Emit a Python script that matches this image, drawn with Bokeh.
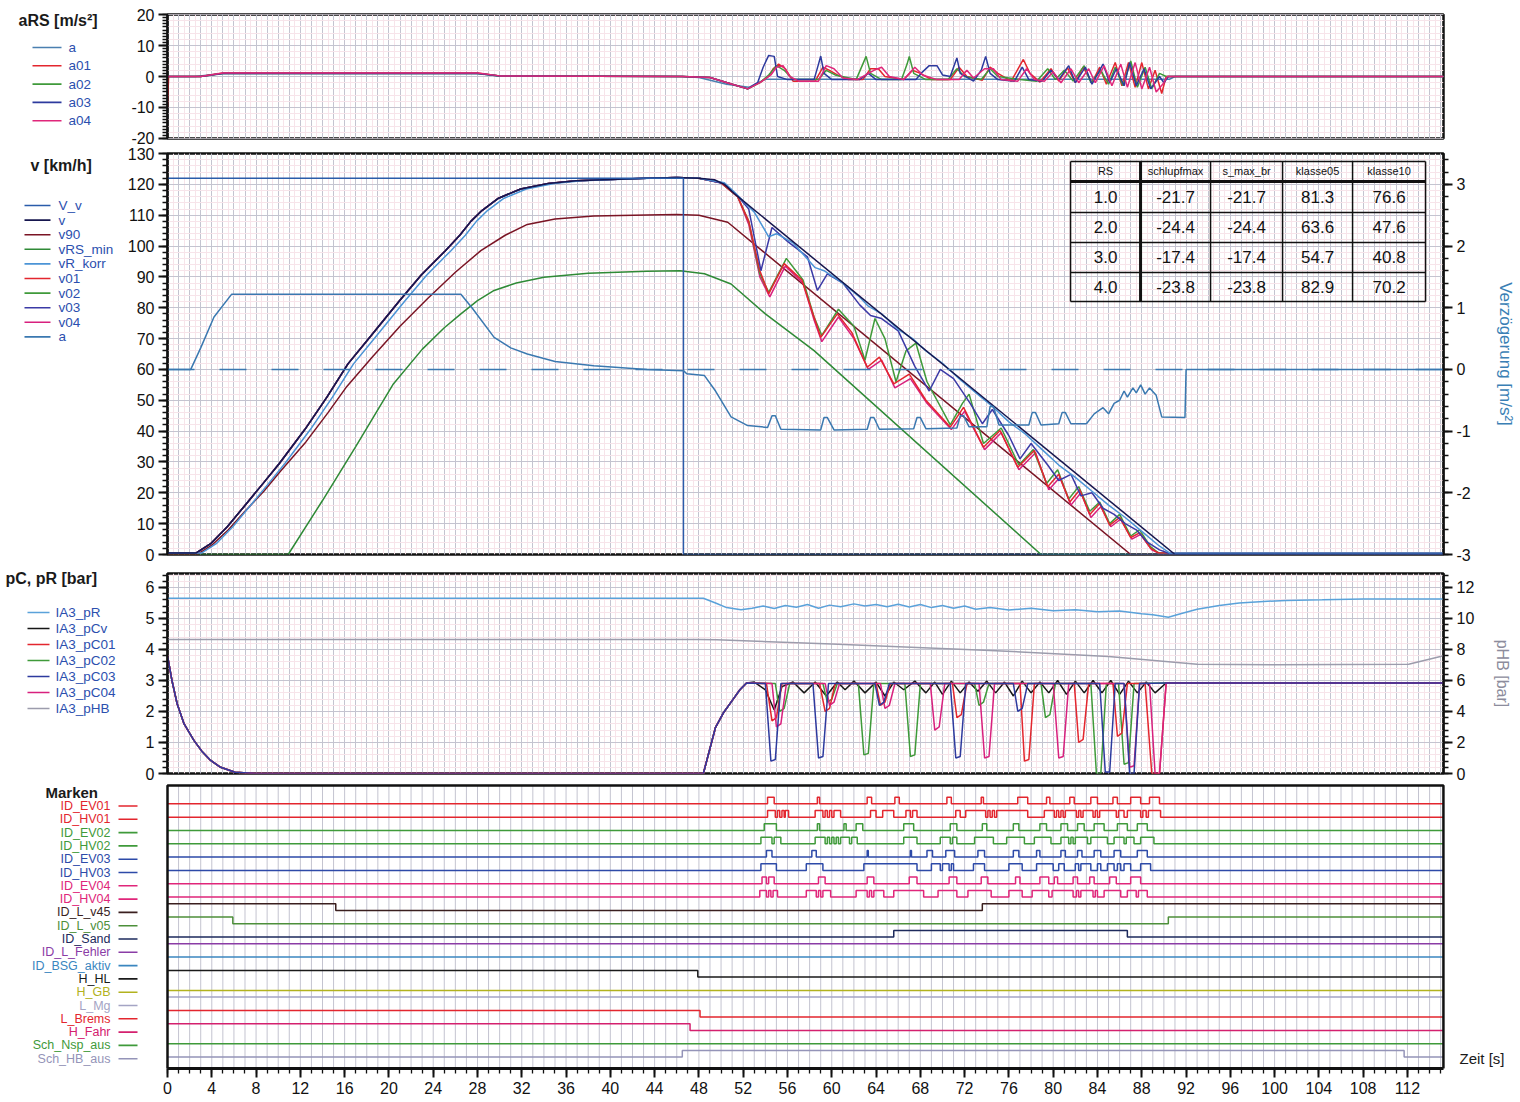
from bokeh.plotting import figure
from bokeh.models import (Range1d, LinearAxis, Grid, SingleIntervalTicker, PrintfTickFormatter)
from bokeh.layouts import column, row
from bokeh.core.properties import value
from bokeh.embed import file_html
from bokeh.resources import INLINE

FONT = "Liberation Sans"
XMAX = 115.25

# ---------------- data: panel 1 (aRS [m/s²]) ----------------
A1_T = [0, 2.5, 5, 28, 30, 46.5, 48, 50.5, 52.5, 54, 90.5, 91, 115.25]
A1_Y = [0, 0, 1.0, 1.0, 0.2, 0, -0.3, -2.5, -3.5, -0.9, -0.9, 0, 0]
A01 = [[0, -10], [0.1, 0], [3, 0], [5, 1.1], [28, 1.1], [30, 0.2], [46.5, 0], [49, -0.3], [51, -2.5], [52.4, -4], [53.5, -2], [54.3, 0], [54.7, 2.5], [55.2, 4], [55.8, 2.5], [56.5, -1.5], [58.5, -1.5], [59.2, 3], [59.8, 2], [60.5, 0.5], [61.5, -1], [62.8, -1], [63.5, 2.5], [64.2, 2.5], [64.8, 0], [66.5, -1], [67.3, 2.0], [68, 1], [69, -1], [70.7, -1], [71.5, 3], [72.2, 0], [73.6, -1.2], [74.3, 3], [75, 1], [76.2, -1.5], [77.3, 5.5], [77.9, 1], [78.8, -1.8], [79.8, 2.5], [80.5, -1.5], [81.3, 2.8], [82, -2], [82.7, 3], [83.5, -2], [84.2, 3], [84.8, -2.5], [85.6, 4.5], [86.2, -3], [86.8, 4.5], [87.4, -3.5], [88.0, 4.5], [88.6, -4], [89.2, 2], [89.8, -5.5], [90.2, 0], [115.25, 0]]
A02 = [[0, 0], [3, 0], [5, 1.0], [28, 1.0], [30, 0.2], [46.5, 0], [49, -0.3], [51, -2.5], [52.4, -4], [53.5, -2], [54.3, 0.5], [55, 3.5], [55.7, 2], [56.5, -1], [58.8, -1], [59.5, 2], [60.3, 0.5], [62.2, -1], [62.8, 4], [63.1, 6.5], [63.5, 1], [64.5, -1], [66.3, -1], [66.8, 4], [67.0, 6.5], [67.4, 1], [68.5, -1], [70.5, -1], [71.3, 2.5], [72, 0], [73.5, -1], [74.3, 2.5], [75, 0], [77, -1], [78.5, -1.5], [79.5, 2.5], [80.2, -1], [81, 2], [81.8, -1.5], [82.8, 3.5], [83.4, -2], [84.3, 2], [85, -2.5], [85.6, 3], [86.3, -3], [87.0, 5], [87.6, -3.5], [88.3, 3], [88.9, -4], [89.6, 1], [90.2, 0], [115.25, 0]]
A03 = [[0, 0], [3, 0], [5, 1.0], [28, 1.0], [30, 0.2], [46.5, 0], [49, -0.3], [51, -2.5], [52.4, -4], [53.3, -2], [53.8, 3], [54.3, 6.8], [54.8, 6.5], [55.1, 0], [56, -1], [58.4, -1], [58.8, 4], [59.0, 6.6], [59.3, 1], [60, -1], [62.5, -1], [63.3, 1], [64, -1], [67.6, -1], [68.2, 1.5], [68.8, 3.5], [69.5, 3.5], [70, 0.5], [70.7, 0], [71.1, 4], [71.3, 6], [71.6, 1], [72.8, -1.5], [73.5, 2], [73.9, 6.5], [74.3, 1], [75, -1], [76.5, -1.5], [77.2, 3], [77.8, -1], [79, -1.5], [79.8, 2], [80.5, -1], [81.4, 3.5], [82, -2], [82.9, 3], [83.5, -2.5], [84.5, 4], [85.1, -2], [85.7, 2.5], [86.4, -3], [86.9, 4.5], [87.5, -3], [88.2, 2.5], [88.8, -4], [89.6, 0], [90, -2], [90.4, 0], [115.25, 0]]
A04 = [[0, 0], [3, 0], [5, 1.1], [28, 1.1], [30, 0.2], [46.5, 0], [49, -0.3], [51, -2.5], [52.4, -4], [53.5, -2], [54.5, 0.5], [55, 3], [55.6, 3.5], [56.2, 0], [57, -1.5], [58.8, -1.5], [59.5, 3.5], [60.2, 2.5], [61, -0.5], [62.3, -1], [63.8, 2], [64.5, 3], [65.2, 0], [66.5, -1], [67.5, 3], [68.2, 0.5], [69.5, -1], [71.5, -1], [72.2, 2], [72.8, -0.5], [73.8, 2.5], [74.6, 2.5], [75.3, -1], [76.8, -1.5], [77.6, 2.5], [78.3, -1], [79.2, -1.5], [80, 1.5], [80.7, -2], [81.6, 2.5], [82.3, -2], [83.2, 2.5], [83.8, -2], [84.6, 3.5], [85.3, -3], [86.1, 4], [86.7, -3.5], [87.4, 4.5], [88, -4], [88.7, 3], [89.3, -5], [90.0, -2], [90.3, 0], [115.25, 0]]

# ---------------- data: panel 2 (v [km/h], Verzögerung) ----------------
VV = [[0, 122], [46.6, 122], [46.6, 0], [115.25, 0]]
ACC_T = [0, 2.6, 3.9, 5.4, 6.9, 8.6, 10.1, 12.4, 14.4, 16.3, 18.4, 20.9, 22.9, 25.1, 26.4, 27.4, 28.4, 29.9, 31.9, 34.4, 36.9, 40, 43.3, 46]
ACC_V = [0.5, 0.5, 3.5, 9, 15.5, 22.9, 29.5, 40.5, 51, 61.8, 71, 82, 90.5, 98.5, 103.5, 108, 111.5, 115.5, 118.5, 120.3, 121.2, 121.6, 122, 122.2]
VRK_ACC_T = [0, 3.1, 4.4, 5.9, 7.4, 9.1, 10.6, 12.9, 14.9, 16.8, 18.9, 21.4, 23.4, 25.6, 26.9, 27.9, 28.9, 30.4, 32.4, 34.9, 37.4, 40.4, 43.6, 46]
V_BRAKE = [[48, 122], [49.4, 121.5], [50.3, 120], [51.2, 117], [91.0, 0], [115.25, 0]]
V01_BRAKE = [[48, 122], [50, 120.5], [51.5, 116], [52.5, 108], [53.5, 92], [54.3, 84.5], [55.7, 94.3], [57.3, 89], [58.3, 78], [59.0, 70.4], [60.5, 78], [61.8, 72], [63.2, 60.7], [64.3, 64], [65.6, 55.3], [67.0, 58.5], [68.5, 50], [70.7, 41.3], [71.9, 47.7], [73.7, 34.8], [75.2, 40.2], [76.8, 28.3], [78.3, 33.7], [79.5, 22], [80.5, 26], [81.5, 17], [82.4, 21], [83.3, 13], [84.2, 16.5], [85.1, 9.5], [86, 12], [87, 5.5], [87.8, 7], [88.8, 2], [89.5, 0.5], [115.25, 0.5]]
V02_BRAKE = [[48, 122], [50, 120.5], [51.5, 116], [52.5, 108], [53.5, 91], [54.3, 85], [55.9, 96], [57.4, 89], [58.4, 77], [59.1, 71], [60.6, 79.5], [62.0, 74], [63.0, 63], [63.9, 76.5], [64.8, 70], [65.8, 56], [66.7, 66], [67.6, 68.5], [68.6, 56], [70.7, 42], [71.8, 49], [72.4, 52], [73.7, 36], [75.3, 41], [76.9, 29], [78.2, 34], [79.4, 23], [80.4, 27.5], [81.4, 18], [82.3, 22], [83.3, 14], [84.2, 17], [85.1, 10], [86, 13], [87, 6], [87.8, 8], [88.8, 2.5], [89.5, 0.5], [115.25, 0.5]]
V03_BRAKE = [[48, 122], [50.3, 120.2], [51.5, 116.2], [52.5, 112], [53.6, 92], [54.6, 106], [56, 101.5], [57.8, 96.5], [58.7, 85.6], [59.6, 91], [61, 88], [62.5, 81], [63.5, 77.5], [64.5, 76.5], [66, 72.5], [67.5, 61], [68.8, 53], [69.8, 60], [71, 57], [72.5, 49], [73.6, 42.4], [74.5, 47], [76, 38.5], [77, 31], [78, 36], [79.5, 29], [80.5, 24], [81.6, 26], [82.5, 19], [83.5, 20], [84.5, 15], [85.5, 13], [86.5, 10], [87.5, 8], [88.5, 4], [89.6, 1.5], [90.5, 0.3], [115.25, 0.3]]
V04_BRAKE = [[48, 122], [50, 120.5], [51.5, 116], [52.5, 107], [53.5, 90], [54.4, 83.5], [55.8, 93.5], [57.4, 88], [58.4, 76], [59.1, 69], [60.6, 77], [62.0, 70], [63.3, 60], [64.5, 63], [65.7, 54], [67.1, 57], [68.6, 49], [70.8, 40.5], [72, 46.5], [73.8, 34], [75.3, 39.5], [76.9, 27.5], [78.4, 33], [79.6, 21], [80.6, 25], [81.6, 16], [82.5, 20], [83.4, 12], [84.3, 15.5], [85.2, 9], [86.1, 11.5], [87.1, 5], [87.9, 6.5], [88.9, 1.5], [89.6, 0.3], [115.25, 0.3]]
VRK_BRAKE = [[48, 122], [50.3, 120.5], [51.2, 117.5], [53, 111], [54.3, 103], [55.0, 104], [56.5, 101], [58.5, 93], [59.3, 92], [61, 88], [62.5, 83.5], [63.3, 80.5], [64.5, 78], [66, 73], [67.3, 70], [68.5, 66], [70, 62], [71.5, 57], [73, 52.5], [74.5, 48], [76, 43], [77.5, 39], [79, 34], [80.5, 29], [82, 25], [83.5, 20.5], [85, 16], [86.5, 12], [88, 7.5], [89.5, 3], [90.5, 0.5], [115.25, 0.5]]
V90 = [[0, 0], [2.7, 0], [4, 3], [5.5, 8], [7, 14], [8.7, 20.5], [10.2, 27], [12.5, 36.5], [14.5, 46], [16.2, 54.5], [18.5, 64], [21, 74], [23.5, 83], [26, 91.5], [28.3, 98.5], [30.5, 103.5], [32.5, 107], [35, 108.8], [38.5, 109.7], [43.3, 110.1], [46, 110.2], [48, 110], [50.6, 107.7], [87.0, 0], [115.25, 0]]
VRS_MIN = [[0, 0], [10.9, 0], [14, 17.5], [17, 35], [20.4, 55.3], [23, 66.5], [25, 73.5], [26.5, 78], [28, 82.3], [29.5, 85.6], [31.5, 88], [34, 89.9], [38, 91.2], [43.3, 91.8], [46.3, 92], [48.5, 91], [50.9, 87.7], [54, 78], [58.4, 66.1], [78.9, 0], [115.25, 0]]
A2 = [[0, 0], [2.1, 0], [3.0, 0.35], [4.2, 0.85], [5.8, 1.22], [26.5, 1.22], [27.5, 1.0], [29.5, 0.52], [31, 0.35], [32.5, 0.25], [35, 0.13], [38.5, 0.06], [43.3, 0.0], [46.6, -0.02], [46.9, -0.07], [48.5, -0.1], [49.5, -0.35], [50.9, -0.77], [52.4, -0.91], [54.2, -0.94], [54.6, -0.75], [54.9, -0.75], [55.4, -0.97], [59.0, -0.98], [59.3, -0.78], [59.6, -0.78], [60.2, -0.98], [63.2, -0.97], [63.5, -0.78], [63.8, -0.78], [64.3, -0.97], [67.4, -0.96], [67.7, -0.78], [68.0, -0.78], [68.5, -0.96], [71.3, -0.95], [71.6, -0.75], [71.9, -0.75], [72.4, -0.93], [74.0, -0.93], [74.3, -0.6], [74.6, -0.6], [75.1, -0.9], [77.8, -0.9], [78.1, -0.7], [78.4, -0.7], [78.9, -0.9], [80.5, -0.88], [80.8, -0.7], [81.1, -0.7], [81.6, -0.88], [83.0, -0.88], [83.7, -0.72], [84.5, -0.62], [85.0, -0.72], [85.5, -0.55], [86.0, -0.5], [86.4, -0.35], [86.7, -0.45], [87.2, -0.3], [87.5, -0.38], [87.9, -0.25], [88.3, -0.4], [88.7, -0.3], [89.3, -0.42], [89.8, -0.77], [91.9, -0.78], [92.0, 0], [115.25, 0]]

# result table
TAB_HEAD = ["RS", "schlupfmax", "s_max_br", "klasse05", "klasse10"]
TAB_RS = ["1.0", "2.0", "3.0", "4.0"]
TAB_SCHLUPFMAX = [-21.7, -24.4, -17.4, -23.8]
TAB_SMAXBR = [-21.7, -24.4, -17.4, -23.8]
TAB_KLASSE05 = [81.3, 63.6, 54.7, 82.9]
TAB_KLASSE10 = [76.6, 47.6, 40.8, 70.2]

# ---------------- data: panel 3 (pC, pR [bar], pHB) ----------------
PR = [[0, 5.65], [48.4, 5.65], [49.5, 5.5], [50.5, 5.35], [51.8, 5.28], [52.8, 5.33], [53.8, 5.4], [54.8, 5.32], [55.8, 5.42], [56.8, 5.36], [57.8, 5.45], [58.8, 5.33], [59.8, 5.43], [60.8, 5.38], [62, 5.47], [63, 5.4], [64, 5.45], [65, 5.38], [66, 5.46], [67, 5.37], [68, 5.45], [69, 5.35], [70, 5.42], [71, 5.33], [72, 5.4], [73, 5.3], [74.3, 5.35], [76, 5.27], [78, 5.33], [80, 5.25], [82, 5.28], [84, 5.22], [86, 5.24], [88, 5.15], [89, 5.12], [90.4, 5.04], [91.5, 5.15], [93, 5.3], [95, 5.42], [96.8, 5.5], [99, 5.55], [101, 5.58], [104.3, 5.6], [108, 5.63], [115.25, 5.63]]
PHB = [[0, 8.64], [48, 8.64], [49.6, 8.62], [60, 8.35], [74.3, 7.94], [85, 7.55], [93, 7.04], [100, 7.02], [112.1, 7.04], [115.25, 7.6]]
PC_START = [[0, 3.8], [0.4, 3.0], [0.87, 2.25], [1.5, 1.6], [2.4, 1.06], [3.1, 0.72], [3.9, 0.42], [4.8, 0.2], [6.1, 0.04], [8, 0.0], [48.4, 0.0], [49.5, 1.49], [50.2, 1.95], [51, 2.35], [51.7, 2.7], [52.3, 2.92]]
PCV = [[53, 2.95], [54, 2.7], [54.8, 2.05], [55.5, 2.8], [56.5, 2.95], [57.5, 2.6], [58.5, 2.95], [59.5, 2.5], [60.5, 2.95], [61.2, 2.7], [62, 2.98], [63, 2.6], [64, 2.95], [64.8, 2.5], [65.6, 2.95], [66.5, 2.7], [67.5, 2.98], [68.5, 2.6], [69.3, 2.95], [70, 2.55], [70.8, 2.98], [71.6, 2.6], [72.4, 2.95], [73.2, 2.65], [74, 2.98], [74.8, 2.6], [75.6, 2.95], [76.4, 2.5], [77.2, 2.98], [78, 2.6], [78.8, 2.95], [79.6, 2.6], [80.4, 3.0], [81.2, 2.55], [82, 2.98], [82.8, 2.6], [83.6, 3.0], [84.4, 2.6], [85.2, 3.0], [86, 2.55], [86.8, 2.98], [87.6, 2.6], [88.4, 2.95], [89.2, 2.6], [90.2, 2.92], [115.25, 2.92]]
PC01 = [[54.1, 2.9], [54.6, 1.7], [55.0, 1.8], [55.5, 2.9], [58.9, 2.9], [59.4, 2.0], [59.8, 2.1], [60.3, 2.9], [64.0, 2.9], [64.4, 2.2], [64.8, 2.3], [65.3, 2.9], [70.9, 2.9], [71.3, 1.8], [71.7, 1.9], [72.2, 2.9], [77.0, 2.9], [77.4, 0.4], [77.8, 0.45], [78.3, 2.9], [81.9, 2.9], [82.3, 1.0], [82.7, 1.1], [83.2, 2.9], [85.4, 2.9], [85.8, 1.2], [86.2, 1.3], [86.7, 2.9], [88.3, 2.9], [88.9, 0.0], [89.6, 0.0], [90.2, 2.92], [115.25, 2.92]]
PC02 = [[54.9, 2.9], [55.3, 2.0], [55.7, 2.1], [56.2, 2.9], [59.2, 2.9], [59.6, 2.3], [60.0, 2.4], [60.5, 2.9], [62.4, 2.9], [62.9, 0.6], [63.3, 0.65], [63.8, 2.9], [66.6, 2.9], [67.1, 0.55], [67.5, 0.6], [68.0, 2.9], [72.9, 2.9], [73.3, 2.2], [73.7, 2.3], [74.2, 2.9], [78.9, 2.9], [79.3, 1.8], [79.7, 1.9], [80.2, 2.9], [83.4, 2.9], [83.9, 0.0], [84.3, 0.0], [84.8, 2.9], [85.9, 2.9], [86.4, 0.3], [86.8, 0.35], [87.3, 2.9], [90.2, 2.92], [115.25, 2.92]]
PC03 = [[54.0, 2.9], [54.5, 0.4], [54.9, 0.45], [55.4, 2.9], [58.3, 2.9], [58.8, 0.5], [59.2, 0.55], [59.7, 2.9], [63.9, 2.9], [64.3, 2.2], [64.7, 2.3], [65.2, 2.9], [70.7, 2.9], [71.2, 0.5], [71.6, 0.55], [72.1, 2.9], [76.4, 2.9], [76.8, 2.0], [77.2, 2.1], [77.7, 2.9], [84.2, 2.9], [84.7, 0.05], [85.1, 0.05], [85.6, 2.9], [86.4, 2.9], [86.9, 0.0], [87.3, 0.0], [87.8, 2.9], [90.2, 2.92], [115.25, 2.92]]
PC04 = [[54.6, 2.9], [55.0, 1.5], [55.4, 1.6], [55.9, 2.9], [59.4, 2.9], [59.8, 2.2], [60.2, 2.3], [60.7, 2.9], [64.4, 2.9], [64.8, 2.1], [65.2, 2.2], [65.7, 2.9], [68.9, 2.9], [69.3, 1.4], [69.7, 1.5], [70.2, 2.9], [73.3, 2.9], [73.8, 0.5], [74.2, 0.55], [74.7, 2.9], [80.0, 2.9], [80.5, 0.5], [80.9, 0.55], [81.4, 2.9], [86.4, 2.9], [86.9, 0.2], [87.3, 0.25], [87.8, 2.9], [88.7, 2.9], [89.2, 0.0], [89.6, 0.0], [90.2, 2.92], [115.25, 2.92]]

# ---------------- data: panel 4 (Marken) ----------------
MARK_NAMES = ["ID_EV01", "ID_HV01", "ID_EV02", "ID_HV02", "ID_EV03", "ID_HV03", "ID_EV04", "ID_HV04",
              "ID_L_v45", "ID_L_v05", "ID_Sand", "ID_L_Fehler", "ID_BSG_aktiv", "H_HL", "H_GB", "L_Mg",
              "L_Brems", "H_Fahr", "Sch_Nsp_aus", "Sch_HB_aus"]
MARK_COLORS = ["#e3262e", "#e3262e", "#3f9a3a", "#3f9a3a", "#2d4aa8", "#2d4aa8", "#e0267a", "#e0267a",
               "#3a1f1f", "#4d8f3a", "#1d2a5c", "#8a3ca6", "#3a86bf", "#1a1a1a", "#b2b21e", "#a4a4c4",
               "#e3262e", "#d4206e", "#3f9a3a", "#9494b8"]
EV01 = [[54.2, 54.8], [58.7, 58.9], [63.2, 63.6], [65.7, 66.1], [70.4, 70.8], [73.5, 73.7], [76.8, 77.7], [79.4, 79.7], [81.5, 81.9], [83.4, 84.0], [85.4, 85.8], [87.0, 87.9], [88.7, 89.6]]
HV01 = [[54.2, 54.9], [55.1, 55.3], [55.5, 55.7], [55.8, 56.1], [58.5, 59.2], [59.4, 59.6], [59.8, 60.0], [60.2, 60.8], [63.5, 64.0], [64.6, 65.6], [66.7, 67.1], [67.3, 67.7], [71.2, 71.6], [72.1, 73.9], [74.1, 74.3], [74.5, 74.7], [74.9, 77.7], [79.2, 80.1], [80.3, 80.5], [80.7, 80.9], [81.1, 82.1], [82.3, 82.5], [82.7, 83.6], [83.8, 84.0], [84.2, 85.7], [85.9, 86.4], [86.7, 87.9], [88.1, 88.4], [88.6, 89.7]]
EV02 = [[53.9, 55.0], [58.7, 58.9], [61.1, 61.3], [62.2, 62.8], [66.5, 67.4], [70.7, 71.3], [73.6, 74.0], [76.4, 76.9], [78.8, 79.4], [80.7, 81.3], [82.2, 82.8], [83.7, 84.6], [85.8, 86.7], [87.6, 88.5]]
HV02 = [[53.6, 54.6], [54.8, 55.4], [58.5, 59.4], [59.6, 59.8], [60.0, 60.2], [60.4, 60.6], [60.8, 61.6], [61.8, 62.3], [66.5, 67.7], [69.8, 70.7], [70.9, 71.3], [72.9, 74.6], [75.8, 77.4], [78.3, 79.8], [80.7, 81.4], [81.6, 81.8], [82.0, 83.1], [83.4, 84.9], [85.5, 86.4], [86.6, 87.3], [87.9, 89.1]]
EV03 = [[54.1, 54.6], [58.2, 58.6], [63.2, 63.3], [67.1, 67.2], [68.6, 69.1], [70.3, 71.1], [73.2, 73.8], [76.4, 76.9], [78.5, 78.8], [80.7, 81.1], [82.2, 82.6], [83.7, 84.3], [85.5, 86.1], [87.6, 88.5]]
HV03 = [[53.6, 55.0], [57.7, 59.2], [62.9, 67.7], [69.0, 69.8], [70.0, 70.6], [70.8, 71.0], [72.8, 73.8], [76.0, 77.2], [78.5, 80.0], [80.5, 81.0], [82.0, 82.3], [82.5, 83.4], [84.0, 84.3], [84.9, 85.5], [85.8, 86.1], [86.4, 87.0], [87.9, 88.8]]
EV04 = [[53.7, 54.1], [54.3, 54.8], [58.8, 59.4], [63.2, 63.8], [67.0, 67.7], [70.6, 71.3], [73.5, 74.1], [76.6, 77.0], [78.8, 79.6], [80.1, 80.4], [81.8, 82.2], [83.3, 83.7], [85.1, 85.7], [87.0, 87.9]]
HV04 = [[53.5, 54.1], [54.3, 54.5], [54.7, 55.1], [57.7, 58.6], [58.8, 59.0], [59.2, 59.9], [62.2, 63.2], [63.4, 63.6], [63.8, 64.7], [65.6, 68.3], [69.6, 71.3], [72.3, 74.4], [76.0, 77.2], [78.1, 79.6], [79.9, 81.8], [82.1, 82.3], [82.5, 83.6], [83.8, 84.0], [84.6, 86.1], [86.7, 87.5], [87.7, 88.5]]
VALVE_ROWS = [EV01, HV01, EV02, HV02, EV03, HV03, EV04, HV04]
# rows 8..19: initial state and switching times
MARK_INIT = [1, 1, 0, 1, 1, 1, 0, 1, 1, 1, 0, 0]
MARK_TOGGLES = [[15.2, 73.6], [5.9, 90.4], [65.6, 86.7], [], [], [47.9], [], [], [48.1], [47.2], [], [46.5, 111.7]]

# ---------------- layout ----------------
LW = 117          # width of the left label column (panels 1-3)
MB_LEFT = 50      # left border of main figures (axis)
MW = 1520 - LW
PX0, PXS = 167.0, 11.071   # page x of t=0 and pixels per second
H1, H2, H3 = 146, 417, 219
TOP4 = H1 + H2 + H3
H4 = 1102 - TOP4
GREY = "#c4c4d0"
PINK = "#f7e4ea"
TICKFONT = "16px"
LEG_BLUE = "#2b4fae"
LEGFONT = "13.5px"

xr = Range1d(0, XMAX)


def make_fig(width, height, yr, top, bottom):
    p = figure(width=width, height=height, x_range=xr, y_range=yr, output_backend="svg",
               toolbar_location=None, min_border_left=MB_LEFT, min_border_right=77,
               min_border_top=top, min_border_bottom=bottom,
               x_axis_location=None, y_axis_location="left",
               background_fill_color="white", border_fill_color="white")
    p.center = [c for c in p.center if not isinstance(c, Grid)]
    p.outline_line_color = "#111111"
    p.outline_line_width = 2.5
    return p


def style_axis(ax, interval, nminor):
    ax.ticker = SingleIntervalTicker(interval=interval, num_minor_ticks=nminor)
    ax.formatter = PrintfTickFormatter(format="%d")
    ax.major_label_text_font = FONT
    ax.major_label_text_font_size = TICKFONT
    ax.major_label_text_color = "#111111"
    ax.major_tick_out = 9
    ax.major_tick_in = 0
    ax.minor_tick_out = 5
    ax.minor_tick_in = 0
    ax.axis_line_width = 2
    ax.axis_line_color = "#111111"
    ax.major_tick_line_width = 2
    ax.major_tick_line_color = "#111111"
    ax.minor_tick_line_width = 1.3
    ax.minor_tick_line_color = "#111111"
    ax.major_label_standoff = 4


def add_grids(p, y_int, y_minor, range_name="default"):
    p.add_layout(Grid(dimension=0, ticker=SingleIntervalTicker(interval=1, num_minor_ticks=2),
                      grid_line_color=GREY, grid_line_width=1,
                      minor_grid_line_color=PINK, minor_grid_line_width=1), "center")
    p.add_layout(Grid(dimension=1, y_range_name=range_name,
                      ticker=SingleIntervalTicker(interval=y_int, num_minor_ticks=y_minor),
                      grid_line_color=GREY, grid_line_width=1,
                      minor_grid_line_color=PINK, minor_grid_line_width=1), "center")


def xs_ys(pairs):
    return [a for a, b in pairs], [b for a, b in pairs]


def bare_fig(width, height, xr_, yr_):
    f = figure(width=width, height=height, x_range=xr_, y_range=yr_,
               output_backend="svg", toolbar_location=None, x_axis_location=None, y_axis_location=None,
               min_border=0, min_border_left=0, min_border_right=0, min_border_top=0, min_border_bottom=0,
               outline_line_color=None, background_fill_color="white", border_fill_color="white")
    f.center = [c for c in f.center if not isinstance(c, Grid)]
    return f


# left label column for panels 1-3 (coordinates are page pixels)
L = bare_fig(LW, TOP4, Range1d(0, LW), Range1d(TOP4, 0))
leg = {"x": [], "y": [], "t": [], "c": [], "s": [], "w": []}
seg = {"x0": [], "x1": [], "y": [], "c": []}


def ltext(x, y, t, c=LEG_BLUE, s=LEGFONT, w="normal"):
    leg["x"].append(x); leg["y"].append(y); leg["t"].append(t)
    leg["c"].append(c); leg["s"].append(s); leg["w"].append(w)


def lseg(x0, x1, y, c):
    seg["x0"].append(x0); seg["x1"].append(x1); seg["y"].append(y); seg["c"].append(c)


# ================= Panel 1 =================
p1 = make_fig(MW, H1, Range1d(-20.02, 20.02), 14, 8)
style_axis(p1.yaxis[0], 10, 10)
add_grids(p1, 10, 5)
P1_SERIES = [("a", (A1_T, A1_Y), "#4a7fb0"),
             ("a01", xs_ys(A01), "#e3262e"),
             ("a02", xs_ys(A02), "#3f9a3a"),
             ("a03", xs_ys(A03), "#2d3a9e"),
             ("a04", xs_ys(A04), "#e0267a")]
for name, (xs, ys), col in P1_SERIES:
    p1.line(xs, ys, line_color=col, line_width=1.5)
ltext(18, 20, "aRS [m/s²]", c="#1a1a1a", s="16px", w="bold")
for i, (name, _, col) in enumerate(P1_SERIES):
    yy = 47 + 18.3 * i
    lseg(32, 61, yy, col)
    ltext(68, yy, name)

# ================= Panel 2 =================
p2 = make_fig(MW, H2, Range1d(0, 130), 7, 9)
style_axis(p2.yaxis[0], 10, 5)
add_grids(p2, 10, 5)
p2.extra_y_ranges = {"acc": Range1d(-3, 3.5)}
ax2 = LinearAxis(y_range_name="acc", axis_label="Verzögerung [m/s²]")
style_axis(ax2, 1, 5)
ax2.axis_label_text_font = FONT
ax2.axis_label_text_font_size = "17px"
ax2.axis_label_text_font_style = "normal"
ax2.axis_label_text_color = "#3a7fb5"
ax2.axis_label_standoff = 22
p2.add_layout(ax2, "right")

vt, vv = xs_ys(V_BRAKE)
P2_SERIES = [
    ("V_v", xs_ys(VV), "#2a5caa"),
    ("v", (ACC_T + vt, ACC_V + vv), "#16164e"),
    ("v90", xs_ys(V90), "#7a1424"),
    ("vRS_min", xs_ys(VRS_MIN), "#2f8a36"),
    ("vR_korr", (VRK_ACC_T + xs_ys(VRK_BRAKE)[0], ACC_V + xs_ys(VRK_BRAKE)[1]), "#4b94d6"),
    ("v01", (ACC_T + xs_ys(V01_BRAKE)[0], ACC_V + xs_ys(V01_BRAKE)[1]), "#e3262e"),
    ("v02", (ACC_T + xs_ys(V02_BRAKE)[0], ACC_V + xs_ys(V02_BRAKE)[1]), "#3f9a3a"),
    ("v03", (ACC_T + xs_ys(V03_BRAKE)[0], ACC_V + xs_ys(V03_BRAKE)[1]), "#3b3aa6"),
    ("v04", (ACC_T + xs_ys(V04_BRAKE)[0], ACC_V + xs_ys(V04_BRAKE)[1]), "#d8207e"),
]
order = ["vRS_min", "v90", "v04", "v02", "v01", "v03", "vR_korr", "v", "V_v"]
lookup = {n: (d, c) for n, d, c in P2_SERIES}
for n in order:
    (xs, ys), c = lookup[n]
    p2.line(xs, ys, line_color=c, line_width=1.5)
p2.line([0, XMAX], [0, 0], y_range_name="acc", line_color="#3a78b0", line_width=1.5, line_dash="27 25")
a2x, a2y = xs_ys(A2)
p2.line(a2x, a2y, y_range_name="acc", line_color="#3a78b0", line_width=1.5)

ltext(30, 165, "v [km/h]", c="#1a1a1a", s="16px", w="bold")
leg2 = [(n, c) for n, d, c in P2_SERIES] + [("a", "#3a78b0")]
for i, (n, c) in enumerate(leg2):
    yy = 205 + 14.6 * i
    lseg(24, 50, yy, c)
    ltext(58, yy, n)


def x_of(px):
    return (px - PX0) / PXS


def v_of(py):
    return (554 - py) / 3.0846


TX = [1070, 1140, 1210, 1282, 1352, 1425]
TY = [161, 181, 212, 242, 272, 301]
tx = [x_of(v) for v in TX]
ty = [v_of(v) for v in TY]
for j, yv in enumerate(ty):
    p2.segment(x0=tx[0], y0=yv, x1=tx[-1], y1=yv, line_color="#111111", line_width=3 if j == 1 else 1.5)
for k, xv in enumerate(tx):
    p2.segment(x0=xv, y0=ty[0], x1=xv, y1=ty[-1], line_color="#111111", line_width=3 if k == 1 else 1.5)
cx = [(tx[k] + tx[k + 1]) / 2 for k in range(5)]
p2.text(x=cx, y=[(ty[0] + ty[1]) / 2] * 5, text=TAB_HEAD, text_font=value(FONT),
        text_font_size="11px", text_align="center", text_baseline="middle", text_color="#111111")
cols = [TAB_RS, ["%.1f" % v for v in TAB_SCHLUPFMAX], ["%.1f" % v for v in TAB_SMAXBR],
        ["%.1f" % v for v in TAB_KLASSE05], ["%.1f" % v for v in TAB_KLASSE10]]
for k in range(5):
    p2.text(x=[cx[k]] * 4, y=[(ty[r + 1] + ty[r + 2]) / 2 for r in range(4)], text=cols[k],
            text_font=value(FONT), text_font_size="17px", text_align="center",
            text_baseline="middle", text_color="#111111")

# ================= Panel 3 =================
p3 = make_fig(MW, H3, Range1d(0, 6.45), 10, 9)
style_axis(p3.yaxis[0], 1, 5)
add_grids(p3, 1, 5)
p3.extra_y_ranges = {"phb": Range1d(0, 12.9)}
ax3 = LinearAxis(y_range_name="phb", axis_label="pHB [bar]")
style_axis(ax3, 2, 5)
ax3.axis_label_text_font = FONT
ax3.axis_label_text_font_size = "16px"
ax3.axis_label_text_font_style = "normal"
ax3.axis_label_text_color = "#8c8c9c"
ax3.axis_label_standoff = 17
p3.add_layout(ax3, "right")

sx, sy = xs_ys(PC_START)
P3_SERIES = [
    ("IA3_pR", xs_ys(PR), "#5aa2da", "default"),
    ("IA3_pCv", (sx + xs_ys(PCV)[0], sy + xs_ys(PCV)[1]), "#161616", "default"),
    ("IA3_pC01", (sx + xs_ys(PC01)[0], sy + xs_ys(PC01)[1]), "#e3262e", "default"),
    ("IA3_pC02", (sx + xs_ys(PC02)[0], sy + xs_ys(PC02)[1]), "#3f9a3a", "default"),
    ("IA3_pC03", (sx + xs_ys(PC03)[0], sy + xs_ys(PC03)[1]), "#2d3a9e", "default"),
    ("IA3_pC04", (sx + xs_ys(PC04)[0], sy + xs_ys(PC04)[1]), "#d8207e", "default"),
    ("IA3_pHB", xs_ys(PHB), "#9c9cac", "phb"),
]
for n in ["IA3_pR", "IA3_pHB", "IA3_pCv", "IA3_pC02", "IA3_pC01", "IA3_pC04", "IA3_pC03"]:
    for nn, (xs, ys), c, rn in P3_SERIES:
        if nn == n:
            p3.line(xs, ys, line_color=c, line_width=1.5, y_range_name=rn)
ltext(5, 578, "pC, pR [bar]", c="#1a1a1a", s="16px", w="bold")
for i, (n, _, c, _) in enumerate(P3_SERIES):
    yy = 612 + 16 * i
    lseg(27, 49, yy, c)
    ltext(55, yy, n)

# draw the left label column
L.segment(x0=seg["x0"], y0=seg["y"], x1=seg["x1"], y1=seg["y"], line_color=seg["c"], line_width=1.6)
for sz, wt in sorted(set(zip(leg["s"], leg["w"]))):
    ii = [k for k in range(len(leg["t"])) if leg["s"][k] == sz and leg["w"][k] == wt]
    L.text(x=[leg["x"][k] for k in ii], y=[leg["y"][k] for k in ii], text=[leg["t"][k] for k in ii],
           text_color=[leg["c"][k] for k in ii], text_font=value(FONT), text_font_size=sz,
           text_font_style=wt, text_align="left", text_baseline="middle")

# ================= Panel 4 (full page width; labels drawn inside) =================
ROW0_PY, ROW_PX = 803.3, 13.33       # page y of first row baseline, pixels per row
BOX_TOP_PY, BOX_BOT_PY = 785, 1068


def mx(px):
    return (px - PX0) / PXS


def my(py):
    return (ROW0_PY - py) / ROW_PX


p4 = figure(width=1520, height=H4, x_range=Range1d(mx(0), mx(1520)), y_range=Range1d(my(1068), my(TOP4)),
            output_backend="svg", toolbar_location=None, min_border_left=0, min_border_right=0,
            min_border_top=0, min_border_bottom=34, x_axis_location="below", y_axis_location=None,
            outline_line_color=None, background_fill_color="white", border_fill_color="white")
p4.center = [c for c in p4.center if not isinstance(c, Grid)]
bx = p4.xaxis[0]
style_axis(bx, 4, 4)
bx.axis_line_width = 3
bx.bounds = (0, XMAX)
gx = list(range(1, 116))
p4.segment(x0=gx, y0=my(BOX_BOT_PY), x1=gx, y1=my(BOX_TOP_PY), line_color=GREY, line_width=1)
HI = 0.5


def step_from_intervals(base, intervals):
    xs, ys = [0], [base]
    for a, b in intervals:
        xs += [a, a, b, b]
        ys += [base, base + HI, base + HI, base]
    xs.append(XMAX)
    ys.append(base)
    return xs, ys


def step_from_toggles(base, init, toggles):
    xs, ys = [0], [base + HI * init]
    s = init
    for t in toggles:
        xs += [t, t]
        ys += [base + HI * s, base + HI * (1 - s)]
        s = 1 - s
    xs.append(XMAX)
    ys.append(base + HI * s)
    return xs, ys


lab_y = []
for i, name in enumerate(MARK_NAMES):
    base = -i
    if i < 8:
        xs, ys = step_from_intervals(base, VALVE_ROWS[i])
    else:
        xs, ys = step_from_toggles(base, MARK_INIT[i - 8], MARK_TOGGLES[i - 8])
    p4.line(xs, ys, line_color=MARK_COLORS[i], line_width=1.5)
    lab_y.append(my(805.5 + 13.3 * i))
p4.text(x=[mx(110)] * len(MARK_NAMES), y=lab_y, text=MARK_NAMES, text_color=MARK_COLORS,
        text_font=value(FONT), text_font_size="12.5px", text_align="right", text_baseline="middle")
p4.segment(x0=[mx(118)] * len(MARK_NAMES), y0=lab_y, x1=[mx(137)] * len(MARK_NAMES), y1=lab_y,
           line_color=MARK_COLORS, line_width=1.6)
p4.quad(left=0, right=XMAX, top=my(BOX_TOP_PY), bottom=my(BOX_BOT_PY), fill_color=None,
        line_color="#111111", line_width=2.5)
p4.text(x=[mx(45)], y=[my(791.5)], text=["Marken"], text_font=value(FONT), text_font_size="15px",
        text_font_style="bold", text_color="#1a1a1a", text_baseline="middle", text_align="left")
p4.text(x=[mx(1459)], y=[my(1058)], text=["Zeit [s]"], text_font=value(FONT), text_font_size="15px",
        text_color="#1a1a1a", text_baseline="middle", text_align="left")

layout = column(row(L, column(p1, p2, p3, spacing=0), spacing=0), p4, spacing=0)
open("out.html", "w").write(file_html(layout, INLINE))
